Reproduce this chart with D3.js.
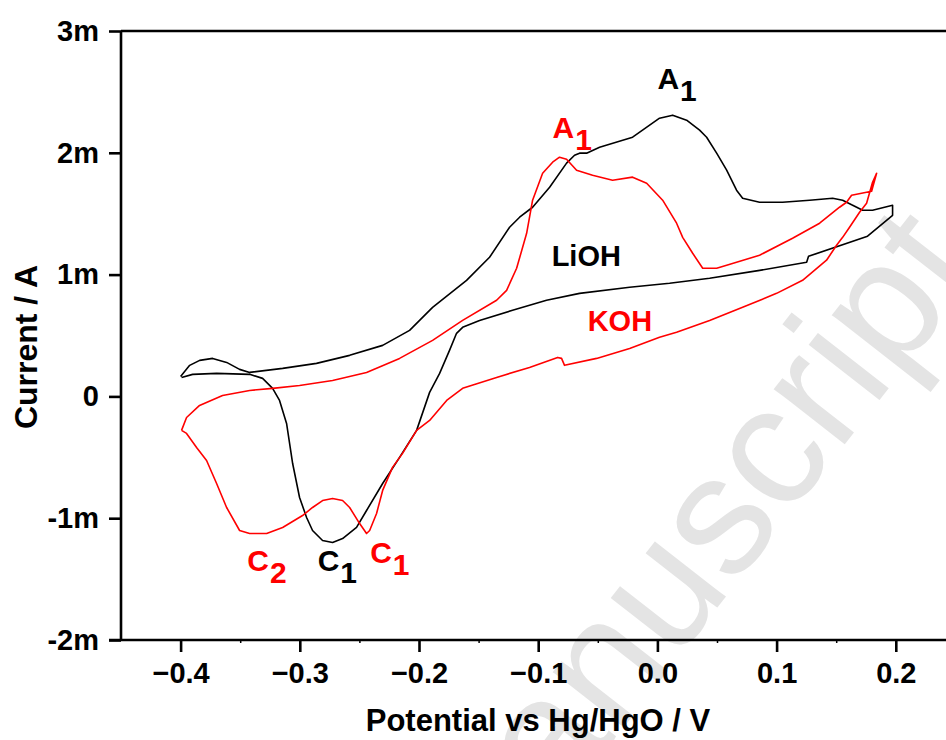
<!DOCTYPE html>
<html>
<head>
<meta charset="utf-8">
<script src="https://cdn.jsdelivr.net/npm/d3@7"></script>
<style>
  html, body { margin: 0; padding: 0; background: #fff; }
  svg { display: block; font-family: "Liberation Sans", Arial, sans-serif; }
</style>
</head>
<body>
<svg id="chart" width="946" height="740"></svg>
<script>
// Cyclic voltammograms: potential (V vs Hg/HgO), current (mA)
const liohCV = [
  [-0.400, 0.164], [-0.3924, 0.255], [-0.384, 0.296], [-0.3731, 0.312], [-0.3614, 0.279],
  [-0.3505, 0.222], [-0.3421, 0.197], [-0.3144, 0.230], [-0.286, 0.271], [-0.2582, 0.337],
  [-0.2305, 0.419], [-0.2079, 0.542], [-0.1886, 0.731], [-0.1601, 0.953], [-0.1408, 1.142],
  [-0.124, 1.389], [-0.1156, 1.471], [-0.1047, 1.553], [-0.0904, 1.717], [-0.0762, 1.915],
  [-0.0695, 1.980], [-0.0653, 1.997], [-0.0594, 1.997], [-0.0485, 2.046], [-0.0208, 2.128],
  [0.0018, 2.284], [0.0128, 2.309], [0.0245, 2.268], [0.0354, 2.186], [0.0413, 2.128],
  [0.0497, 1.997], [0.0581, 1.857], [0.0664, 1.693], [0.0715, 1.627], [0.0857, 1.594],
  [0.1050, 1.594], [0.1277, 1.611], [0.1470, 1.627], [0.1554, 1.611], [0.1638, 1.569],
  [0.1722, 1.528], [0.1805, 1.528], [0.1973, 1.569],
  [0.1973, 1.487], [0.1763, 1.315], [0.1268, 1.150], [0.1252, 1.101], [0.0858, 1.035],
  [0.0438, 0.970], [0.0102, 0.929], [-0.0233, 0.896], [-0.0653, 0.846], [-0.093, 0.789],
  [-0.1215, 0.707], [-0.1492, 0.624], [-0.1634, 0.567], [-0.1685, 0.518], [-0.1744, 0.378],
  [-0.1827, 0.189], [-0.1911, 0.033], [-0.2020, -0.279], [-0.2163, -0.501], [-0.2305, -0.715],
  [-0.2440, -0.937], [-0.2524, -1.076], [-0.2641, -1.167], [-0.2725, -1.200], [-0.2809, -1.183],
  [-0.2893, -1.101], [-0.2943, -0.994], [-0.3002, -0.830], [-0.3060, -0.551], [-0.3111, -0.222],
  [-0.3170, -0.033], [-0.3228, 0.066], [-0.3312, 0.148], [-0.3421, 0.181], [-0.3698, 0.189],
  [-0.3899, 0.181], [-0.3992, 0.156]
];

const kohCV = [
  [-0.3992, -0.279], [-0.3950, -0.173], [-0.3841, -0.074], [-0.3648, 0.008], [-0.3421, 0.049],
  [-0.3228, 0.066], [-0.3002, 0.090], [-0.2725, 0.131], [-0.2440, 0.197], [-0.2163, 0.312],
  [-0.1886, 0.460], [-0.1634, 0.624], [-0.1349, 0.789], [-0.1265, 0.871], [-0.1181, 1.052],
  [-0.1097, 1.339], [-0.1047, 1.611], [-0.0963, 1.832], [-0.0879, 1.923], [-0.0821, 1.964],
  [-0.0762, 1.947], [-0.0678, 1.857], [-0.0544, 1.816], [-0.0376, 1.775], [-0.0208, 1.800],
  [-0.0090, 1.750], [0.0044, 1.611], [0.0161, 1.422], [0.0212, 1.306], [0.0296, 1.175],
  [0.0380, 1.052], [0.0497, 1.052], [0.0581, 1.076], [0.0857, 1.159], [0.1134, 1.298],
  [0.1361, 1.422], [0.1528, 1.553], [0.1587, 1.594], [0.1629, 1.652], [0.1797, 1.684],
  [0.1839, 1.832],
  [0.1805, 1.758], [0.1755, 1.586], [0.1696, 1.512], [0.1612, 1.389], [0.1554, 1.306],
  [0.1503, 1.241], [0.1419, 1.118], [0.1218, 0.953], [0.1000, 0.846], [0.0715, 0.731],
  [0.0438, 0.624], [0.0161, 0.526], [0.0018, 0.485], [-0.0233, 0.394], [-0.0510, 0.312],
  [-0.0779, 0.255], [-0.0804, 0.312], [-0.0837, 0.320], [-0.1073, 0.238], [-0.1349, 0.156],
  [-0.1634, 0.066], [-0.1768, -0.033], [-0.1911, -0.197], [-0.2020, -0.279], [-0.2138, -0.468],
  [-0.2222, -0.583], [-0.2305, -0.772], [-0.2356, -0.961], [-0.2414, -1.101], [-0.2440, -1.126],
  [-0.2498, -1.044], [-0.2582, -0.912], [-0.2641, -0.855], [-0.2725, -0.838], [-0.2809, -0.855],
  [-0.2893, -0.912], [-0.2977, -0.978], [-0.3144, -1.076], [-0.3278, -1.126], [-0.3421, -1.126],
  [-0.3505, -1.101], [-0.3614, -0.912], [-0.3698, -0.715], [-0.3782, -0.526], [-0.3866, -0.419],
  [-0.3950, -0.304], [-0.3992, -0.279]
];

const xTicks = [-0.4, -0.3, -0.2, -0.1, 0.0, 0.1, 0.2];
const xMinorTicks = [-0.35, -0.25, -0.15, -0.05, 0.05, 0.15];
const yTicks = [-2, -1, 0, 1, 2, 3];
const yTickLabels = ["-2m", "-1m", "0", "1m", "2m", "3m"];

// Peak annotations: [main text, subscript, potential, current, colour]
const peakLabels = [
  ["A", "1", 0.000, 2.52, "#000"],
  ["A", "1", -0.088, 2.12, "#f00"],
  ["C", "2", -0.344, -1.43, "#f00"],
  ["C", "1", -0.285, -1.43, "#000"],
  ["C", "1", -0.241, -1.37, "#f00"]
];
const seriesLabels = [
  ["LiOH", -0.0887, 1.07, "#000"],
  ["KOH", -0.0585, 0.54, "#f00"]
];

const svg = d3.select("#chart");
const W = 946;
const plotLeft = 121, plotTop = 31, plotBottom = 640;

const x = d3.scaleLinear().domain([-0.45, 0.25]).range([plotLeft, plotLeft + 0.7 * 1192]);
const y = d3.scaleLinear().domain([-2, 3]).range([plotBottom, plotTop]);

// Faint journal watermark behind the plot
svg.append("text")
  .attr("transform", "translate(727,595) rotate(-52)")
  .attr("text-anchor", "middle")
  .attr("font-size", 170)
  .attr("fill", "#e4e4e4")
  .attr("font-family", "'Liberation Sans', Arial, sans-serif")
  .text("Manuscript");

// Curves
const line = d3.line().x(d => x(d[0])).y(d => y(d[1]));
svg.append("path").datum(liohCV).attr("d", line)
  .attr("fill", "none").attr("stroke", "#000").attr("stroke-width", 1.6).attr("stroke-linejoin", "round");
svg.append("path").datum(kohCV).attr("d", line)
  .attr("fill", "none").attr("stroke", "#f00").attr("stroke-width", 1.6).attr("stroke-linejoin", "round");

// Axes
const axisStroke = 2.6;
const xAxis = svg.append("g").attr("transform", `translate(0,${plotBottom})`)
  .call(d3.axisBottom(x).tickValues(xTicks).tickSize(12).tickPadding(10).tickFormat(d3.format(".1f")));
xAxis.select(".domain").remove();
svg.append("line").attr("x1", plotLeft - 12).attr("x2", W).attr("y1", plotBottom).attr("y2", plotBottom)
  .attr("stroke", "#000").attr("stroke-width", axisStroke);
xAxis.selectAll(".tick line").attr("stroke-width", axisStroke);
xAxis.selectAll(".tick text").attr("font-size", 29).attr("font-weight", "bold")
  .attr("font-family", "'Liberation Sans', Arial, sans-serif").attr("fill", "#000");

svg.append("g").attr("transform", `translate(0,${plotBottom})`)
  .call(d3.axisBottom(x).tickValues(xMinorTicks).tickSize(3).tickFormat(""))
  .call(g => g.select(".domain").remove())
  .selectAll(".tick line").attr("stroke-width", 1.5);

const yAxis = svg.append("g").attr("transform", `translate(${plotLeft},0)`)
  .call(d3.axisLeft(y).tickValues(yTicks).tickSize(12).tickPadding(10)
    .tickFormat((d, i) => yTickLabels[i]));
yAxis.select(".domain").remove();
svg.append("line").attr("x1", plotLeft).attr("x2", plotLeft).attr("y1", plotTop).attr("y2", plotBottom)
  .attr("stroke", "#000").attr("stroke-width", axisStroke);
yAxis.selectAll(".tick line").attr("stroke-width", axisStroke);
yAxis.selectAll(".tick text").attr("font-size", 29).attr("font-weight", "bold")
  .attr("font-family", "'Liberation Sans', Arial, sans-serif").attr("fill", "#000");

// Top frame line
svg.append("line").attr("x1", plotLeft).attr("x2", W).attr("y1", plotTop).attr("y2", plotTop)
  .attr("stroke", "#000").attr("stroke-width", axisStroke);

// Axis titles
svg.append("text").attr("x", 538).attr("y", 731).attr("text-anchor", "middle")
  .attr("font-size", 31).attr("font-weight", "bold").text("Potential vs Hg/HgO / V");
svg.append("text").attr("transform", "translate(37,347) rotate(-90)").attr("text-anchor", "middle")
  .attr("font-size", 32).attr("font-weight", "bold").text("Current / A");

// Peak labels with subscripts
peakLabels.forEach(([main, sub, e, i, c]) => {
  const t = svg.append("text").attr("x", x(e)).attr("y", y(i))
    .attr("font-size", 30).attr("font-weight", "bold").attr("fill", c);
  t.append("tspan").text(main);
  t.append("tspan").attr("dy", 12).attr("dx", 1).text(sub);
});
seriesLabels.forEach(([txt, e, i, c]) => {
  svg.append("text").attr("x", x(e)).attr("y", y(i))
    .attr("font-size", 29).attr("font-weight", "bold").attr("fill", c).text(txt);
});
</script>
</body>
</html>
